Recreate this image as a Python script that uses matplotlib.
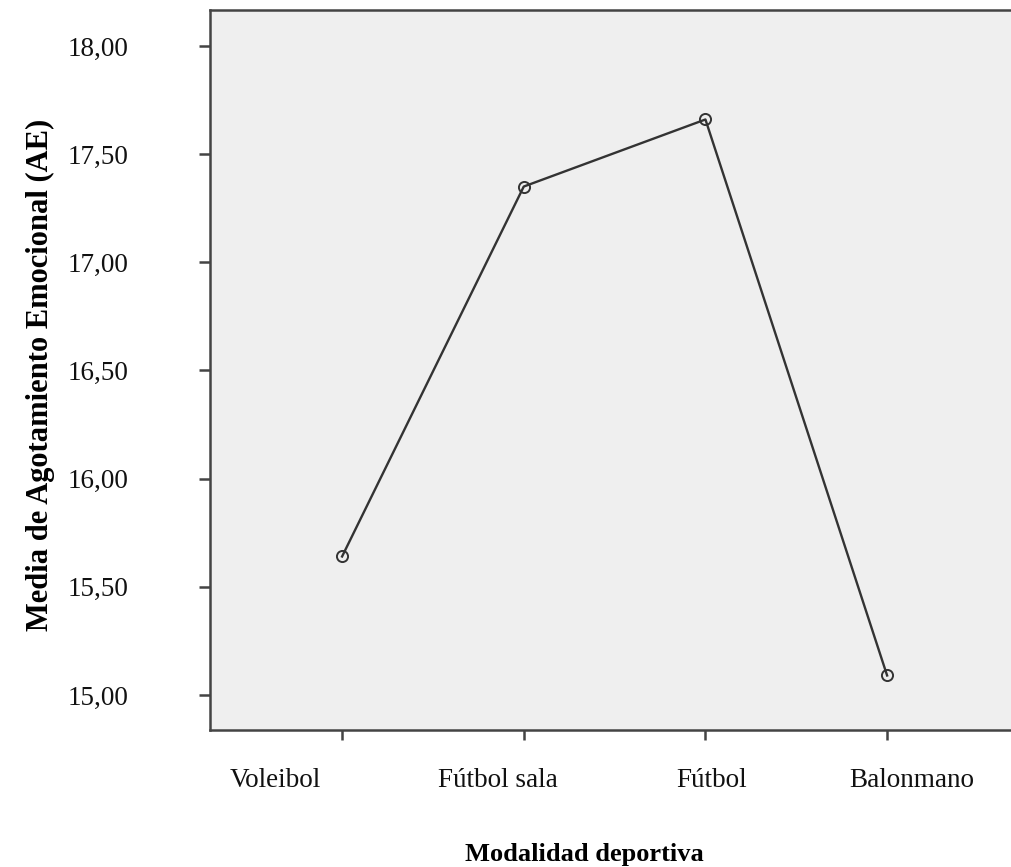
import matplotlib
matplotlib.use("Agg")
import matplotlib.pyplot as plt
from matplotlib.transforms import ScaledTranslation

categories = ["Voleibol", "Fútbol sala", "Fútbol", "Balonmano"]
means = [15.64, 17.35, 17.66, 15.09]
yticks = [15.0, 15.5, 16.0, 16.5, 17.0, 17.5, 18.0]

plt.rcParams["font.family"] = ["Liberation Serif", "DejaVu Serif"]

W, H = 1011, 867
fig = plt.figure(figsize=(W / 100, H / 100), dpi=100)

# axes box in pixels: left 210, top 10, bottom 730, right slightly past the edge
left, top, bottom = 210, 10, 730
x0_px, step_px = 342, 181.7
right = x0_px + 3.727 * step_px
ax = fig.add_axes([left / W, 1 - bottom / H, (right - left) / W, (bottom - top) / H])
ax.set_facecolor("#efefef")

xs = list(range(len(categories)))
ax.plot(xs, means, color="#333333", lw=1.7, marker="o", ms=8,
        mfc="none", mec="#333333", mew=1.4)

ax.set_xlim(-0.727, 3.727)
ax.set_ylim(14.838, 18.166)
ax.set_xticks(xs)
ax.set_xticklabels(categories)
ax.set_yticks(yticks)
ax.set_yticklabels([f"{v:.2f}".replace(".", ",") for v in yticks])

for side in ("left", "bottom", "top"):
    ax.spines[side].set_color("#444444")
    ax.spines[side].set_linewidth(1.8)
ax.spines["right"].set_visible(False)

ax.tick_params(axis="y", length=8, width=1.8, color="#444444", pad=51,
               labelsize=19.5, labelcolor="#111111")
ax.tick_params(axis="x", length=7.5, width=1.8, color="#444444", pad=20,
               labelsize=19.5, labelcolor="#111111")

# category labels sit slightly off their ticks
label_shift_px = [-67, -26, 6, 25]
for lab, dx in zip(ax.get_xticklabels(), label_shift_px):
    lab.set_transform(lab.get_transform() + ScaledTranslation(dx / 100, 0, fig.dpi_scale_trans))

fig.text(48 / W, 1 - 375 / H, "Media de Agotamiento Emocional (AE)", rotation=90,
         rotation_mode="anchor", ha="center", va="baseline",
         fontsize=22, fontweight="bold")
fig.text(584 / W, 1 - 861 / H, "Modalidad deportiva", ha="center", va="baseline",
         fontsize=19, fontweight="bold")

fig.savefig("out.png", dpi=100)
